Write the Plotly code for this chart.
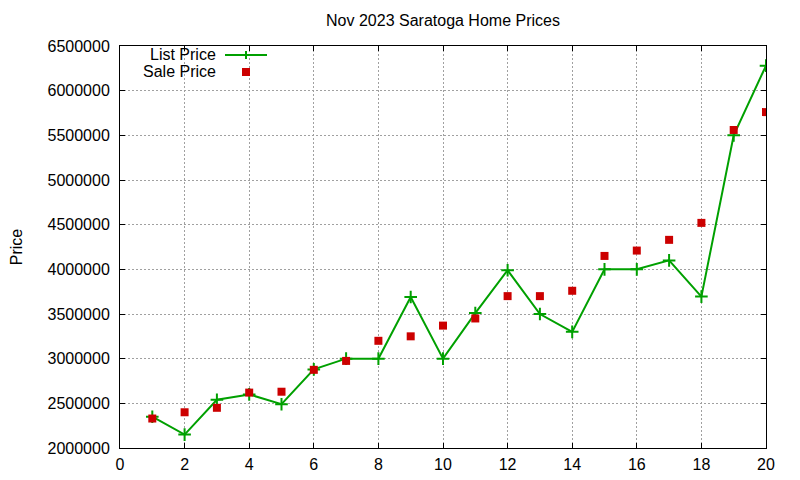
import plotly.graph_objects as go

# data
homes = list(range(1, 21))
list_price = [2350000, 2150000, 2540000, 2600000, 2490000, 2880000, 3000000, 3000000,
              3690000, 3000000, 3510000, 3990000, 3500000, 3300000, 4000000, 4000000,
              4100000, 3695000, 5500000, 6280000]
sale_price = [2330000, 2400000, 2450000, 2620000, 2630000, 2875000, 2975000, 3200000,
              3250000, 3370000, 3450000, 3700000, 3700000, 3760000, 4150000, 4210000,
              4330000, 4520000, 5560000, 5760000]
x_ticks = list(range(0, 21, 2))
y_ticks = list(range(2000000, 6500001, 500000))

green = '#00a000'
red = '#cc0000'
font = 'Liberation Sans, Arial, sans-serif'

# page body has an 8px margin, so shift the plot area back by that much
off = 8
left, top, pw, ph = 120 - off, 46 - off, 646, 402

fig = go.Figure()
fig.add_trace(go.Scatter(
    x=homes, y=list_price, mode='lines+markers', name='List Price',
    line=dict(color=green, width=2),
    marker=dict(symbol='cross-thin', size=9, line=dict(color=green, width=2)),
))
fig.add_trace(go.Scatter(
    x=homes, y=sale_price, mode='markers', name='Sale Price',
    marker=dict(symbol='square', size=8, color=red),
))

axis_common = dict(
    showline=True, linecolor='black', linewidth=1, mirror='allticks',
    ticks='inside', ticklen=5, tickcolor='black',
    showgrid=True, gridcolor='#a0a0a0', griddash='2px,2px', gridwidth=1,
    zeroline=False, tickfont=dict(size=16, color='black', family=font),
)

fig.update_xaxes(range=[0, 20], tickvals=x_ticks, ticklabelstandoff=2, **axis_common)
fig.update_yaxes(range=[2000000, 6500000], tickvals=y_ticks, tickformat='d',
                 ticklabelstandoff=6,
                 title=dict(text='Price', font=dict(size=16, color='black', family=font), standoff=25),
                 **axis_common)

# gnuplot-style key: text right-aligned, sample to its right
def px_x(p):
    return (p - 120) / pw

def px_y(p):
    return (448 - p) / ph

annotations = [
    dict(text='List Price', x=px_x(218), y=px_y(55), xref='paper', yref='paper',
         xanchor='right', yanchor='middle', showarrow=False,
         font=dict(size=16, color='black', family=font)),
    dict(text='Sale Price', x=px_x(218), y=px_y(71), xref='paper', yref='paper',
         xanchor='right', yanchor='middle', showarrow=False,
         font=dict(size=16, color='black', family=font)),
]
shapes = [
    dict(type='line', xref='paper', yref='paper', x0=px_x(225), x1=px_x(267),
         y0=px_y(55), y1=px_y(55), line=dict(color=green, width=2)),
    dict(type='line', xref='paper', yref='paper', x0=px_x(246), x1=px_x(246),
         y0=px_y(51), y1=px_y(59), line=dict(color=green, width=2)),
    dict(type='rect', xref='paper', yref='paper', x0=px_x(242), x1=px_x(250),
         y0=px_y(68), y1=px_y(76), line=dict(width=0), fillcolor=red),
]

fig.update_layout(
    width=800, height=480,
    margin=dict(l=left, r=800 - left - pw, t=top, b=480 - top - ph, autoexpand=False),
    paper_bgcolor='white', plot_bgcolor='white',
    title=dict(text='Nov 2023 Saratoga Home Prices', x=(left + pw / 2) / 800, xanchor='center',
               y=1 - (20 - off) / 480, yanchor='middle',
               font=dict(size=16, color='black', family=font)),
    showlegend=False,
    annotations=annotations,
    shapes=shapes,
)

fig.write_html('out.html')
